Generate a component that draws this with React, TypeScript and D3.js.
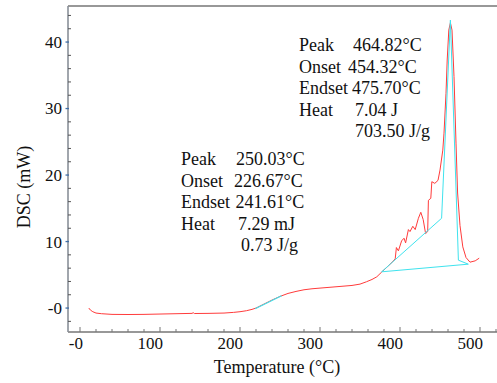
import React from 'react';
import * as d3 from 'd3';

// ---- data ----
const tempC = [
  11, 13, 16, 20, 27, 40, 60, 80, 100, 120, 140, 141.5, 143, 160, 180, 192, 200, 208, 215, 220,
  230, 240, 250, 260, 270, 280, 290, 300, 320, 340, 350, 358, 365, 371, 377, 385, 391, 394,
  395.5, 398, 402, 405, 407, 410.5, 412.5, 416, 419, 423, 426, 429, 432, 434.6, 435.5, 438.5,
  439.8, 443.5, 447.5, 450, 453.5, 455, 457.5, 459, 461, 463, 465, 467.5, 470, 472, 475, 478.5,
  482.5, 487.5, 494, 499,
];
const dscMW = [
  0.0, -0.3, -0.55, -0.75, -0.85, -0.95, -0.97, -0.95, -0.9, -0.85, -0.8, -0.7, -0.82, -0.8,
  -0.75, -0.65, -0.55, -0.4, -0.2, 0.0, 0.6, 1.2, 1.75, 2.2, 2.5, 2.75, 2.9, 3.0, 3.2, 3.4,
  3.6, 3.95, 4.3, 4.7, 5.4, 6.3, 7.0, 7.4, 9.1, 8.6, 10.1, 10.5, 9.8, 11.8, 11.5, 12.3, 11.8,
  13.5, 14.4, 13.3, 11.2, 11.5, 16.2, 16.5, 19.0, 18.75, 19.2, 20.75, 23.75, 26.3, 32.3, 37.3,
  41.8, 42.9, 41.8, 34.8, 24.8, 17.3, 12.4, 9.2, 7.6, 6.9, 7.1, 7.5,
];
// integration construction of the main peak (cyan)
const peakBoxTemp = [377, 452, 463, 473, 485.4, 377];
const peakBoxDsc = [5.45, 13.5, 43.3, 7.2, 6.6, 5.45];
// tangent over the small transition (cyan)
const smallTemp = [219, 252];
const smallDsc = [-0.1, 1.85];

const xTickValues = [0, 100, 200, 300, 400, 500];
const xTickLabels = ['-0', '100', '200', '300', '400', '500'];
const yTickValues = [0, 10, 20, 30, 40];
const yTickLabels = ['-0', '10', '20', '30', '40'];

const leftLabels = ['Peak', 'Onset', 'Endset', 'Heat', ''];
const leftValues = ['250.03°C', '226.67°C', '241.61°C', '7.29 mJ', '0.73 J/g'];
const rightLabels = ['Peak', 'Onset', 'Endset', 'Heat', ''];
const rightValues = ['464.82°C', '454.32°C', '475.70°C', '7.04 J', '703.50 J/g'];

const xTitle = 'Temperature (°C)';
const yTitle = 'DSC (mW)';

// ---- layout ----
const W = 497;
const H = 383;
const left = 68;
const right = 497;
const top = 6;
const bottom = 332;
const FONT = '"Liberation Serif", "Times New Roman", serif';

export default function App() {
  const x = d3.scaleLinear().domain([-15, 521.25]).range([left, right]);
  const y = d3.scaleLinear().domain([-3.6, 45.42]).range([bottom, top]);

  const pts: [number, number][] = tempC.map((t, i) => [t, dscMW[i]]);
  const line = d3
    .line<[number, number]>()
    .x((d) => x(d[0]))
    .y((d) => y(d[1]));
  const curvePath = line(pts) || '';
  const boxPath = line(peakBoxTemp.map((t, i) => [t, peakBoxDsc[i]] as [number, number])) || '';
  const smallPath = line(smallTemp.map((t, i) => [t, smallDsc[i]] as [number, number])) || '';

  const xMinor = d3.range(0, 521, 20);
  const yMinor = d3.range(-2, 45, 2);

  const leftValX = [236, 234, 235.5, 238, 241];
  const rightValX = [353, 348, 352, 355, 355];
  const leftBase = 165;
  const rightBase = 51;
  const lh = 21.5;

  return (
    <svg
      width={W}
      height={H}
      style={{ position: 'absolute', left: 0, top: 0, background: '#fff' }}
      fontFamily={FONT}
    >
      <rect x={0} y={0} width={W} height={H} fill="#fff" />
      {/* frame */}
      <line x1={left} x2={right} y1={top} y2={top} stroke="#333" strokeWidth={1.2} />
      <line x1={left} x2={right} y1={bottom} y2={bottom} stroke="#333" strokeWidth={1.2} />
      <line x1={left} x2={left} y1={top} y2={bottom} stroke="#8a9099" strokeWidth={1.6} />

      {/* x ticks */}
      {xMinor.map((v) => {
        const major = v % 100 === 0;
        return (
          <line
            key={'xt' + v}
            x1={x(v)}
            x2={x(v)}
            y1={bottom}
            y2={bottom - (major ? 5 : 3)}
            stroke="#777"
            strokeWidth={1}
          />
        );
      })}
      {xTickValues.map((v, i) => (
        <text key={'xl' + v} x={x(v) + 3} y={349} fontSize={17} textAnchor="end" fill="#111">
          {xTickLabels[i]}
        </text>
      ))}

      {/* y ticks */}
      {yMinor.map((v) => {
        const major = v % 10 === 0;
        return major ? (
          <line key={'yt' + v} x1={left - 2.5} x2={left + 1} y1={y(v)} y2={y(v)} stroke="#3f6ea8" strokeWidth={1.3} />
        ) : (
          <line key={'yt' + v} x1={left} x2={left + 3} y1={y(v)} y2={y(v)} stroke="#555" strokeWidth={1} />
        );
      })}
      {yTickValues.map((v, i) => (
        <text key={'yl' + v} x={62} y={y(v)} dy="0.35em" fontSize={17} textAnchor="end" fill="#111">
          {yTickLabels[i]}
        </text>
      ))}

      {/* titles */}
      <text x={277} y={373} fontSize={18} textAnchor="middle" fill="#111">
        {xTitle}
      </text>
      <text
        transform={`translate(30, 187) rotate(-90)`}
        fontSize={18}
        textAnchor="middle"
        fill="#111"
      >
        {yTitle}
      </text>

      {/* curves */}
      <path d={curvePath} fill="none" stroke="#ff3b3b" strokeWidth={1} />
      <path d={boxPath} fill="none" stroke="#3fe3ee" strokeWidth={1} />
      <path d={smallPath} fill="none" stroke="#3fe3ee" strokeWidth={1.2} />

      {/* annotations */}
      {leftValues.map((v, i) => (
        <g key={'la' + i} fontSize={18} fill="#111">
          {leftLabels[i] && (
            <text x={181} y={leftBase + i * lh}>
              {leftLabels[i]}
            </text>
          )}
          <text x={leftValX[i]} y={leftBase + i * lh}>
            {v}
          </text>
        </g>
      ))}
      {rightValues.map((v, i) => (
        <g key={'ra' + i} fontSize={18} fill="#111">
          {rightLabels[i] && (
            <text x={299} y={rightBase + i * lh}>
              {rightLabels[i]}
            </text>
          )}
          <text x={rightValX[i]} y={rightBase + i * lh}>
            {v}
          </text>
        </g>
      ))}
    </svg>
  );
}
